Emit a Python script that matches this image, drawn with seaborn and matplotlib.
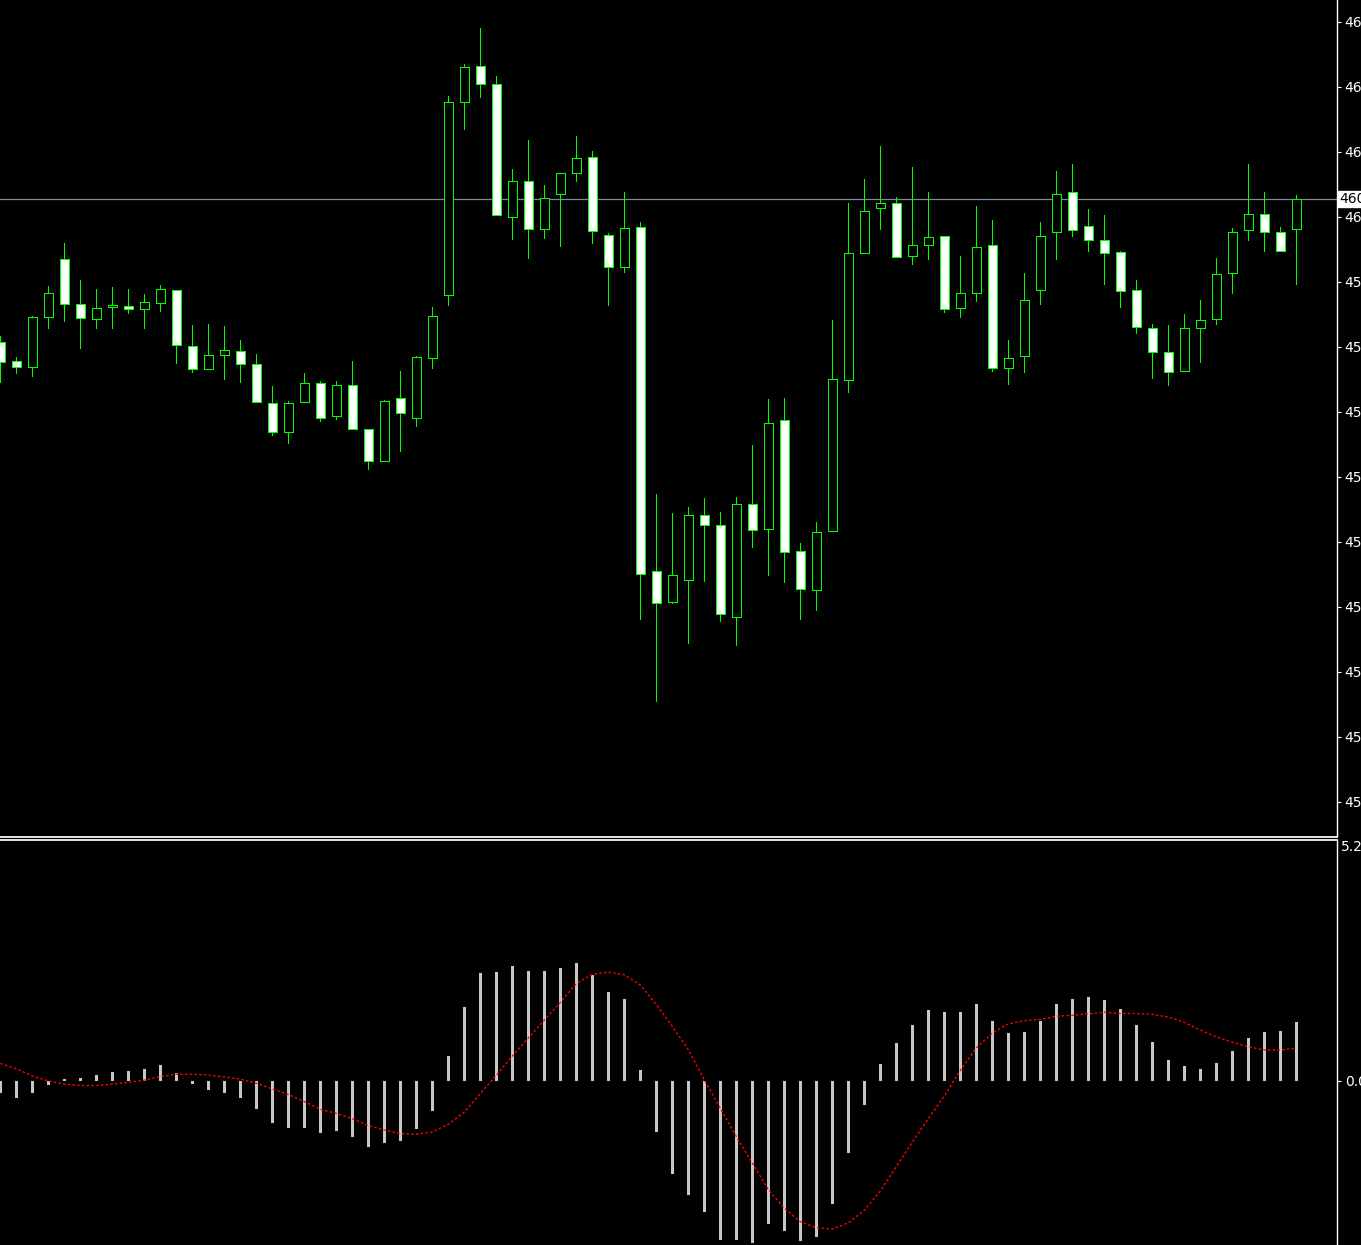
import numpy as np
import pandas as pd
import matplotlib
matplotlib.use("Agg")
import matplotlib.pyplot as plt
import seaborn as sns

# price candles (oldest -> newest)
opens = [4593.80, 4592.85, 4592.55, 4595.05, 4597.95, 4595.70, 4594.95, 4595.55, 4595.60, 4595.45,
         4595.75, 4596.40, 4593.60, 4592.45, 4593.15, 4593.35, 4592.70, 4590.75, 4589.30, 4590.80,
         4591.75, 4590.10, 4591.65, 4589.45, 4587.85, 4591.00, 4590.00, 4593.00, 4596.15, 4605.80,
         4607.60, 4606.70, 4600.05, 4601.85, 4599.45, 4601.20, 4602.25, 4603.05, 4599.15, 4597.55,
         4599.55, 4582.35, 4580.80, 4581.90, 4585.15, 4584.65, 4580.05, 4585.70, 4584.45, 4589.90,
         4583.35, 4581.40, 4584.35, 4591.90, 4598.25, 4600.50, 4600.75, 4598.10, 4598.65, 4599.10,
         4595.50, 4596.25, 4598.65, 4592.50, 4593.10, 4596.40, 4599.30, 4601.30, 4599.60, 4598.90,
         4598.30, 4596.40, 4594.50, 4593.30, 4592.35, 4594.50, 4594.95, 4597.25, 4599.40, 4600.20,
         4599.30, 4599.45]
highs = [4594.10, 4593.05, 4595.10, 4596.60, 4598.75, 4596.90, 4596.45, 4596.55, 4596.45, 4596.20,
         4596.65, 4596.40, 4594.65, 4594.70, 4594.60, 4593.90, 4593.20, 4591.60, 4590.85, 4592.25,
         4591.85, 4591.85, 4592.85, 4589.45, 4590.90, 4592.35, 4593.10, 4595.55, 4606.10, 4607.70,
         4609.50, 4607.10, 4602.45, 4603.90, 4601.65, 4602.25, 4604.10, 4603.35, 4599.25, 4601.30,
         4599.80, 4586.20, 4585.25, 4585.55, 4586.00, 4585.30, 4586.05, 4588.65, 4590.95, 4591.00,
         4583.75, 4584.80, 4594.90, 4600.75, 4601.95, 4603.60, 4601.05, 4602.55, 4601.30, 4599.10,
         4598.10, 4600.60, 4599.90, 4593.90, 4597.25, 4599.80, 4602.35, 4602.70, 4600.45, 4600.15,
         4598.35, 4596.90, 4594.70, 4594.65, 4595.20, 4595.90, 4598.00, 4599.50, 4602.70, 4601.30,
         4599.55, 4601.15]
lows = [4591.80, 4592.25, 4592.10, 4594.50, 4594.85, 4593.50, 4594.50, 4594.50, 4595.25, 4594.50,
        4595.35, 4592.75, 4592.30, 4592.45, 4591.95, 4591.80, 4590.80, 4589.15, 4588.75, 4590.80,
        4589.85, 4589.95, 4589.45, 4587.45, 4587.85, 4588.35, 4589.60, 4592.50, 4595.65, 4604.45,
        4606.05, 4600.15, 4598.95, 4598.00, 4599.00, 4598.60, 4601.85, 4598.75, 4595.65, 4597.30,
        4579.95, 4575.85, 4580.75, 4578.75, 4581.85, 4579.85, 4578.65, 4583.55, 4582.15, 4581.80,
        4579.95, 4580.40, 4584.35, 4591.30, 4598.25, 4599.45, 4598.05, 4597.70, 4597.95, 4595.30,
        4595.05, 4595.85, 4592.35, 4591.70, 4592.30, 4595.70, 4597.95, 4599.10, 4598.35, 4596.70,
        4595.55, 4594.25, 4592.00, 4591.65, 4592.35, 4592.80, 4594.70, 4596.25, 4598.90, 4598.35,
        4598.35, 4596.70]
closes = [4592.80, 4592.55, 4595.05, 4596.25, 4595.70, 4595.00, 4595.50, 4595.65, 4595.45, 4595.80,
          4596.45, 4593.65, 4592.45, 4593.15, 4593.40, 4592.70, 4590.80, 4589.30, 4590.75, 4591.75,
          4590.00, 4591.65, 4589.45, 4587.85, 4590.85, 4590.25, 4593.05, 4595.10, 4605.80, 4607.55,
          4606.70, 4600.15, 4601.85, 4599.45, 4601.00, 4602.25, 4603.00, 4599.35, 4597.55, 4599.50,
          4582.20, 4580.75, 4582.15, 4585.15, 4584.65, 4580.20, 4585.70, 4584.40, 4589.75, 4583.30,
          4581.45, 4584.30, 4591.95, 4598.25, 4600.35, 4600.75, 4598.05, 4598.65, 4599.05, 4595.45,
          4596.25, 4598.55, 4592.50, 4593.00, 4595.90, 4599.10, 4601.20, 4599.40, 4598.90, 4598.25,
          4596.35, 4594.55, 4593.30, 4592.30, 4594.50, 4594.90, 4597.20, 4599.30, 4600.20, 4599.30,
          4598.35, 4600.95]

# MACD window: histogram and signal line
macd_hist = [-0.26, -0.37, -0.26, -0.08, 0.04, 0.07, 0.13, 0.20, 0.22, 0.27,
             0.36, 0.18, -0.07, -0.19, -0.26, -0.37, -0.62, -0.93, -1.04, -1.04,
             -1.15, -1.10, -1.24, -1.46, -1.37, -1.33, -1.06, -0.66, 0.56, 1.64,
             2.40, 2.42, 2.56, 2.44, 2.44, 2.51, 2.62, 2.36, 1.98, 1.82,
             0.24, -1.13, -2.06, -2.53, -2.90, -3.53, -3.53, -3.59, -3.17, -3.33,
             -3.55, -3.46, -2.73, -1.59, -0.53, 0.38, 0.84, 1.24, 1.58, 1.53,
             1.53, 1.71, 1.33, 1.07, 1.09, 1.33, 1.71, 1.82, 1.87, 1.80,
             1.60, 1.24, 0.87, 0.47, 0.33, 0.27, 0.40, 0.67, 0.96, 1.09,
             1.11, 1.31]
macd_signal = [0.39, 0.27, 0.11, 0.00, -0.07, -0.10, -0.10, -0.07, -0.03, 0.02,
               0.10, 0.15, 0.15, 0.13, 0.09, 0.04, -0.05, -0.18, -0.30, -0.46,
               -0.63, -0.72, -0.84, -0.99, -1.09, -1.17, -1.18, -1.13, -0.96, -0.69,
               -0.27, 0.13, 0.56, 0.96, 1.36, 1.75, 2.17, 2.37, 2.42, 2.36,
               2.13, 1.69, 1.21, 0.69, 0.02, -0.61, -1.24, -1.83, -2.42, -2.83,
               -3.13, -3.26, -3.29, -3.15, -2.87, -2.44, -1.90, -1.35, -0.83, -0.33,
               0.24, 0.74, 1.07, 1.27, 1.34, 1.37, 1.44, 1.46, 1.49, 1.53,
               1.50, 1.50, 1.48, 1.42, 1.30, 1.13, 0.98, 0.86, 0.76, 0.69,
               0.69, 0.73]

# right-hand scale labels
price_ticks = [4609.80, 4606.55, 4603.30, 4600.05, 4596.80, 4593.55, 4590.30,
               4587.05, 4583.80, 4580.55, 4577.30, 4574.05, 4570.80]
macd_top_label = 5.2

W, H = 1361, 1245
GREEN = "#00ff00"
AXIS_W = 1337
FS = 10


def build_frame():
    df = pd.DataFrame({"open": opens, "high": highs, "low": lows, "close": closes,
                       "hist": macd_hist, "signal": macd_signal})
    df["idx"] = np.arange(len(df))
    return df


def draw_candles(ax, df):
    bear = df["close"] < df["open"]
    ax.vlines(df["idx"], df["low"], df["high"], color=GREEN, linewidth=0.6,
              antialiased=False, zorder=2)
    body_lo = np.minimum(df["open"], df["close"])
    body_h = np.maximum((df["open"] - df["close"]).abs(), 0.02)
    faces = np.where(bear, "white", "black")
    ax.bar(df["idx"], body_h, bottom=body_lo, width=0.58, color=faces,
           edgecolor=GREEN, linewidth=0.6, antialiased=False, zorder=3)


def generate_chart(df):
    sns.set_theme(style="dark", rc={"axes.facecolor": "black", "figure.facecolor": "black",
                                    "axes.grid": False, "text.color": "white",
                                    "xtick.color": "white", "ytick.color": "white"})
    plt.rcParams["font.family"] = ["DejaVu Sans"]

    fig = plt.figure(figsize=(W / 100, H / 100), dpi=100)
    top_h = 836.5
    ax1 = fig.add_axes([0, (H - top_h) / H, AXIS_W / W, top_h / H])
    ax2 = fig.add_axes([0, 0, AXIS_W / W, (H - 839.5) / H])

    # x scale: one bar every 16 px
    xmin = -0.03
    xmax = xmin + AXIS_W / 16
    for ax in (ax1, ax2):
        ax.set_facecolor("black")
        ax.set_xlim(xmin, xmax)
        ax.set_xticks([])
        for s in ("left", "top", "bottom", "right"):
            ax.spines[s].set_visible(False)
        ax.spines["right"].set_visible(True)
        ax.spines["right"].set_color("white")
        ax.spines["right"].set_linewidth(1.0)
        ax.yaxis.tick_right()
        ax.tick_params(axis="y", direction="out", length=3, width=0.8, pad=2.5,
                       labelsize=FS, colors="white")

    # price panel
    ax1.set_ylim(4569.075, 4610.9)
    ax1.spines["bottom"].set_visible(True)
    ax1.spines["bottom"].set_color("white")
    draw_candles(ax1, df)
    last = df["close"].iloc[-1]
    ax1.axhline(last, color="#7a8a9c", linewidth=0.9, zorder=1)
    ax1.set_yticks(price_ticks)
    ax1.set_yticklabels([f"{v:.2f}" for v in price_ticks])
    ax1.text(1.0016, last, f"{last:.2f}", transform=ax1.get_yaxis_transform(),
             ha="left", va="center", color="black", fontsize=FS,
             bbox=dict(boxstyle="square,pad=0.1", fc="white", ec="white"))

    # MACD panel
    ax2.set_ylim(-(H - 1081) / 45, (1081 - 839.5) / 45)
    ax2.spines["top"].set_visible(True)
    ax2.spines["top"].set_color("white")
    ax2.bar(df["idx"], df["hist"], width=0.13, color="#c8c8c8", linewidth=0,
            antialiased=False, zorder=2)
    sns.lineplot(data=df, x="idx", y="signal", ax=ax2, color="red", linewidth=1.0,
                 zorder=3, legend=False)
    ax2.lines[-1].set_dashes((1.8, 1.6))
    ax2.set_xlim(xmin, xmax)
    ax2.set_xlabel("")
    ax2.set_ylabel("")
    ax2.set_yticks([0.0])
    ax2.set_yticklabels(["0.0000"])
    ax2.text(1.003, macd_top_label, f"{macd_top_label:.4f}", transform=ax2.get_yaxis_transform(),
             ha="left", va="center", color="white", fontsize=FS)
    ax1.set_xlabel("")
    ax1.set_ylabel("")

    fig.savefig("out.png", dpi=100, facecolor="black")


def main():
    data = build_frame()
    generate_chart(data)


if __name__ == "__main__":
    main()
